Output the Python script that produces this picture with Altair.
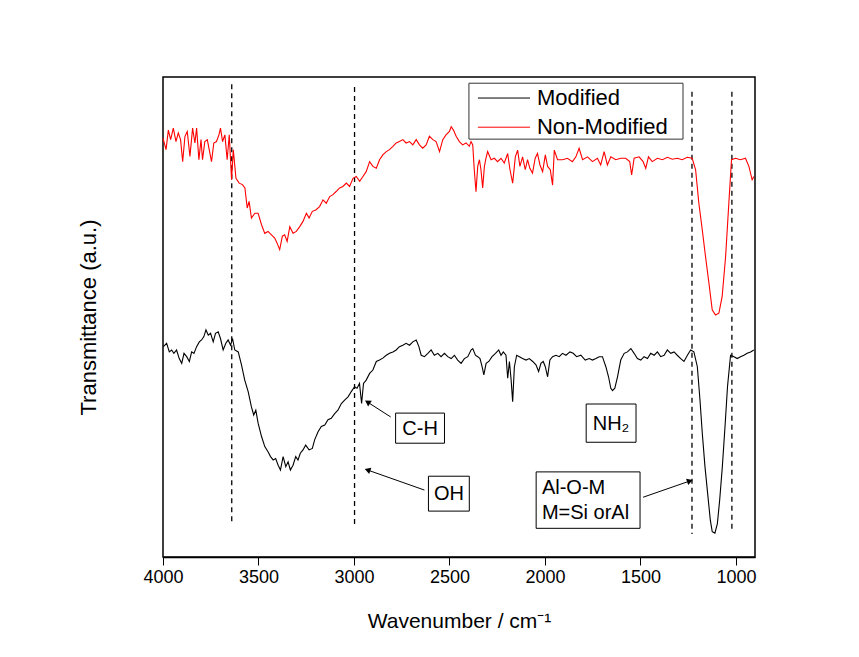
import altair as alt
import pandas as pd

FONT = "Liberation Sans"

# ---- spectra (wavenumber, transmittance a.u.) ----
red_wn = [4000,3984,3972,3960,3946,3932,3920,3908,3897,3885,3873,3859,3845,3833,3824,3812,3801,3793,3781,3768,
          3758,3746,3734,3720,3707,3699,3688,3676,3664,3653,3641,3632,3618,3601,3584,3571,3559,3549,3537,3519,
          3502,3484,3467,3450,3432,3415,3403,3389,3375,3363,3350,3336,3319,3302,3284,3267,3249,3235,3218,3200,
          3180,3162,3145,3127,3110,3092,3075,3058,3040,3023,3005,2988,2970,2953,2936,2918,2901,2883,2866,2849,
          2831,2814,2796,2779,2762,2744,2727,2709,2692,2674,2657,2640,2622,2605,2587,2570,2552,2535,2518,2500,
          2491,2479,2465,2448,2431,2413,2396,2387,2378,2370,2361,2352,2343,2335,2326,2317,2309,2300,2282,2265,
          2248,2230,2213,2195,2183,2169,2155,2143,2131,2117,2103,2091,2079,2065,2051,2039,2026,2012,1998,1986,
          1972,1960,1951,1934,1908,1882,1856,1838,1821,1803,1777,1751,1725,1708,1690,1673,1655,1629,1603,1577,
          1556,1546,1533,1507,1486,1472,1458,1438,1411,1385,1359,1333,1307,1281,1255,1229,1211,1194,1176,1159,
          1141,1124,1107,1089,1072,1054,1037,1023,1002,976,950,932,915,906]
red_t = [87.2,84.8,88.9,86.9,89.3,86.5,88.3,86.9,82.3,87.6,88.6,83.4,89.3,86.2,89.3,82.7,86.9,82.7,86.5,86.9,
         84.8,82.3,86.2,86.5,87.9,89.3,86.5,87.9,82.7,87.9,78.5,84.8,78.8,77.8,77.5,76.8,72.6,74.0,70.5,71.5,
         71.5,69.1,67.3,67.7,67.0,66.3,65.3,63.9,66.7,67.0,65.6,68.7,67.3,67.7,68.7,69.8,71.5,70.5,71.9,72.2,
         72.9,74.3,73.6,75.0,75.4,76.1,76.8,77.1,77.8,77.1,78.8,79.2,78.2,79.2,80.2,82.3,81.3,80.9,82.7,83.7,
         84.4,84.8,85.5,86.2,86.5,86.9,86.2,86.5,85.8,86.9,85.8,85.1,85.8,87.6,86.9,86.5,84.4,86.9,87.9,88.6,
         89.6,88.9,87.6,86.5,85.8,86.2,85.5,86.5,85.8,80.6,76.0,81.3,82.7,80.6,76.8,81.3,83.0,84.4,82.7,83.0,
         82.3,83.0,82.0,84.0,80.6,77.8,83.3,84.7,81.3,83.3,80.6,82.7,80.9,79.9,83.0,84.0,81.6,80.2,83.7,81.3,
         80.6,77.4,84.7,82.7,82.7,83.0,82.3,83.3,85.1,82.7,83.3,82.3,83.0,81.6,84.4,81.6,83.3,82.7,83.0,83.0,
         82.3,79.5,83.0,83.3,82.3,80.9,83.3,82.3,83.0,82.7,83.2,82.8,83.0,82.7,83.2,83.0,80.6,73.6,68.0,62.4,
         56.8,51.3,50.2,50.6,54.1,62.4,73.6,82.7,83.0,82.7,83.0,81.3,78.5,79.2]

black_wn = [3998,3981,3967,3955,3943,3929,3915,3902,3890,3876,3862,3850,3838,3824,3810,3798,3786,3775,3763,3751,
            3737,3725,3711,3699,3685,3671,3659,3646,3636,3624,3606,3589,3572,3554,3537,3525,3514,3502,3484,3467,
            3450,3437,3423,3410,3397,3385,3371,3357,3345,3333,3319,3305,3293,3281,3267,3253,3235,3218,3206,3188,
            3171,3153,3136,3119,3101,3084,3066,3049,3031,3014,2997,2984,2971,2960,2950,2936,2918,2901,2883,2866,
            2849,2831,2814,2796,2779,2762,2744,2727,2709,2692,2674,2660,2648,2631,2613,2596,2579,2561,2544,2526,
            2509,2491,2474,2457,2439,2422,2404,2387,2378,2364,2352,2340,2329,2320,2308,2294,2277,2259,2242,2230,
            2218,2204,2195,2186,2177,2169,2160,2148,2134,2117,2099,2082,2064,2047,2033,2021,2009,1998,1986,1974,
            1960,1942,1925,1908,1890,1869,1852,1834,1812,1789,1768,1751,1733,1716,1699,1681,1667,1655,1646,1634,
            1620,1603,1585,1568,1550,1533,1516,1498,1481,1463,1446,1428,1411,1394,1376,1359,1341,1324,1307,1289,
            1272,1254,1237,1220,1202,1188,1176,1162,1148,1134,1124,1110,1097,1085,1071,1057,1044,1028,1010,993,
            976,958,941,923,906]
black_t = [43.6,44.3,42.5,42.9,42.2,42.9,41.1,40.1,42.2,41.5,40.5,42.5,42.2,43.6,44.6,45.0,45.7,47.1,46.0,46.4,
           44.6,46.4,46.7,45.3,42.9,44.3,45.0,43.9,45.3,42.9,42.5,39.8,36.6,34.2,31.0,29.3,30.3,27.6,24.8,22.7,
           21.6,20.6,19.9,20.2,18.8,17.8,20.6,18.5,19.5,17.8,18.8,20.6,19.9,21.3,22.0,23.0,22.0,22.3,24.1,25.8,
           26.9,27.2,28.3,28.6,29.6,30.3,31.7,32.4,33.1,34.2,35.2,34.9,35.9,31.7,35.9,36.6,38.0,38.7,40.5,40.8,
           41.2,41.8,42.2,42.5,42.9,43.6,43.9,44.3,43.9,44.6,45.0,43.6,41.8,41.5,42.2,42.9,41.8,42.2,41.5,42.2,
           41.5,41.1,41.8,40.8,40.1,41.1,41.5,42.9,43.2,41.8,41.5,41.1,39.4,37.7,40.1,40.5,41.5,42.2,42.9,41.8,
           42.5,41.8,37.0,40.5,36.6,32.1,39.4,41.8,41.5,41.1,40.8,41.1,40.5,39.8,38.4,40.1,40.5,39.4,37.3,40.8,
           41.5,41.8,41.5,42.2,41.8,42.5,42.2,41.5,41.8,40.8,41.1,40.8,41.1,41.5,41.5,39.4,37.3,34.9,34.4,34.9,
           37.3,40.8,42.2,42.5,43.2,42.2,41.1,40.8,41.5,41.1,42.2,41.8,42.5,41.5,41.8,42.9,42.2,42.5,41.8,41.1,
           40.5,41.8,42.9,42.5,39.4,32.4,25.5,18.5,12.9,7.3,4.9,4.6,6.6,11.5,18.5,26.9,35.2,41.8,41.5,41.1,
           41.5,41.8,42.2,42.5,42.9]

series_names = ["Modified", "Non-Modified"]
series_colors = ["#000000", "#ff0000"]
x_ticks = [4000, 3500, 3000, 2500, 2000, 1500, 1000]

# legend (drawn in data units inside the frame)
leg_box = {"x1": 2398, "x2": 1277, "y1": 98.7, "y2": 87.0}
leg_line_x1 = 2351
leg_line_x2 = 2078
leg_text_x = 2042
leg_rows_t = [95.6, 89.5]

# dashed guide lines
guide_wn = [3640, 2997, 1230, 1021]
guide_top = [98.5, 97.9, 96.9, 96.9]
guide_bot = [6.3, 5.9, 4.4, 4.8]

# annotation boxes
box_x1 = [2782, 2610, 1784, 2046]
box_x2 = [2526, 2396, 1523, 1502]
box_y1 = [29.7, 16.5, 31.6, 17.4]
box_y2 = [23.4, 9.2, 23.6, 5.6]

label_text = ["C-H", "OH", "NH\u2082"]
label_wn = [2654, 2503, 1654]
label_t = [26.4, 12.7, 27.4]

multi_text = ["Al-O-M", "M=Si orAl"]
multi_wn = [2016, 2016]
multi_t = [14.0, 8.8]

# arrows (start -> tip)
arr_x1 = [2808, 2631, 1486]
arr_y1 = [28.9, 13.6, 12.1]
arr_x2 = [2929, 2929, 1241]
arr_y2 = [32.0, 17.8, 15.5]
arr_ang = [213, 199, 341]

spec = pd.DataFrame({
    "wn": red_wn + black_wn,
    "t": red_t + black_t,
    "series": ["Non-Modified"] * len(red_wn) + ["Modified"] * len(black_wn),
})
guides = pd.DataFrame({"wn": guide_wn, "t1": guide_top, "t2": guide_bot})
boxes = pd.DataFrame({"x1": box_x1, "x2": box_x2, "y1": box_y1, "y2": box_y2})
labels = pd.DataFrame({"wn": label_wn, "t": label_t, "txt": label_text})
multi = pd.DataFrame({"wn": multi_wn, "t": multi_t, "txt": multi_text})
arrows = pd.DataFrame({"x1": arr_x1, "y1": arr_y1, "x2": arr_x2, "y2": arr_y2, "ang": arr_ang})
legbox = pd.DataFrame([leg_box])
legrows = pd.DataFrame({"series": series_names, "t": leg_rows_t,
                        "x1": [leg_line_x1] * 2, "x2": [leg_line_x2] * 2, "xt": [leg_text_x] * 2})

xs = alt.Scale(domain=[900, 4000], reverse=True, nice=False, zero=False)
ys = alt.Scale(domain=[-0.4, 100], nice=False, zero=False)
cs = alt.Scale(domain=series_names, range=series_colors)

x_axis = alt.Axis(values=x_ticks, format="d", title="Wavenumber / cm\u207b\u00b9",
                  labelFontSize=18, titleFontSize=21, titleFontWeight="normal",
                  tickSize=8, tickColor="black", domainColor="black", domainWidth=1.5,
                  labelColor="black", titleColor="black", grid=False, labelPadding=3,
                  titlePadding=24, labelFlush=False)
y_axis = alt.Axis(title="Transmittance (a.u.)", labels=False, ticks=False, domain=False,
                  grid=False, titleFontSize=22, titleFontWeight="normal", titleColor="black",
                  titlePadding=63)

lines = alt.Chart(spec).mark_line(strokeWidth=1.1).encode(
    x=alt.X("wn:Q", scale=xs, axis=x_axis),
    y=alt.Y("t:Q", scale=ys, axis=y_axis),
    color=alt.Color("series:N", scale=cs, legend=None),
    detail="series:N",
)

guide_layer = alt.Chart(guides).mark_rule(color="black", strokeWidth=1.3, strokeDash=[5, 4]).encode(
    x=alt.X("wn:Q", scale=xs), y=alt.Y("t1:Q", scale=ys), y2="t2:Q")

arrow_lines = alt.Chart(arrows).mark_rule(color="black", strokeWidth=1).encode(
    x=alt.X("x1:Q", scale=xs), y=alt.Y("y1:Q", scale=ys), x2="x2:Q", y2="y2:Q")

arrow_heads = alt.Chart(arrows).mark_point(shape="triangle-right", filled=True, color="black",
                                           size=45, opacity=1).encode(
    x=alt.X("x2:Q", scale=xs), y=alt.Y("y2:Q", scale=ys),
    angle=alt.Angle("ang:Q", scale=None))

box_layer = alt.Chart(boxes).mark_rect(fill="white", stroke="black", strokeWidth=1).encode(
    x=alt.X("x1:Q", scale=xs), x2="x2:Q", y=alt.Y("y1:Q", scale=ys), y2="y2:Q")

label_layer = alt.Chart(labels).mark_text(font=FONT, fontSize=20, color="black",
                                          align="center", baseline="middle").encode(
    x=alt.X("wn:Q", scale=xs), y=alt.Y("t:Q", scale=ys), text="txt:N")

multi_layer = alt.Chart(multi).mark_text(font=FONT, fontSize=20, color="black",
                                         align="left", baseline="middle").encode(
    x=alt.X("wn:Q", scale=xs), y=alt.Y("t:Q", scale=ys), text="txt:N")

legend_box = alt.Chart(legbox).mark_rect(fill="white", stroke="#333333", strokeWidth=1).encode(
    x=alt.X("x1:Q", scale=xs), x2="x2:Q", y=alt.Y("y1:Q", scale=ys), y2="y2:Q")

legend_lines = alt.Chart(legrows).mark_rule(strokeWidth=1).encode(
    x=alt.X("x1:Q", scale=xs), x2="x2:Q", y=alt.Y("t:Q", scale=ys),
    color=alt.Color("series:N", scale=cs, legend=None))

legend_text = alt.Chart(legrows).mark_text(font=FONT, fontSize=22, color="black",
                                           align="left", baseline="middle").encode(
    x=alt.X("xt:Q", scale=xs), y=alt.Y("t:Q", scale=ys), text="series:N")

chart = alt.layer(guide_layer, lines, arrow_lines, arrow_heads, box_layer, label_layer, multi_layer,
                  legend_box, legend_lines, legend_text).properties(
    width=592, height=480,
    autosize=alt.AutoSizeParams(type="none"),
    padding={"left": 155, "top": 69, "right": 90, "bottom": 92},
    background="white",
).configure(font=FONT).configure_view(stroke="black", strokeWidth=1.5)

chart.save("out.html", embed_options={"renderer": "svg", "actions": False})
